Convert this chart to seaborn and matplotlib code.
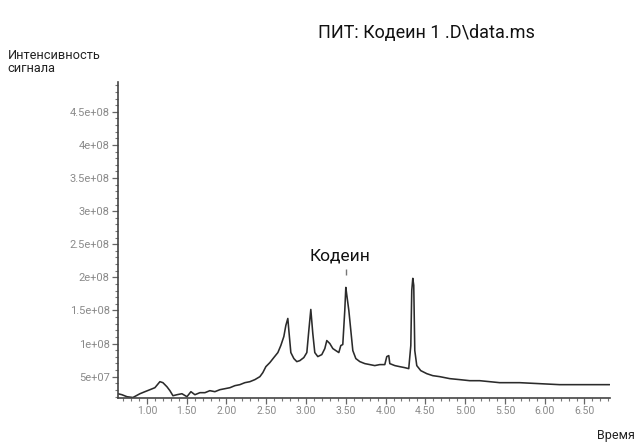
import matplotlib
matplotlib.use("Agg")
import matplotlib.pyplot as plt
from matplotlib.ticker import FixedLocator, MultipleLocator
import seaborn as sns
import pandas as pd

# Retention time (min) and signal intensity (millions of counts)
time_min = [0.636, 0.686, 0.749, 0.824, 0.912, 0.975, 1.038, 1.100, 1.163, 1.201,
            1.251, 1.289, 1.327, 1.377, 1.440, 1.503, 1.553, 1.603, 1.666, 1.729,
            1.791, 1.854, 1.917, 1.980, 2.043, 2.106, 2.168, 2.231, 2.294, 2.357,
            2.420, 2.457, 2.495, 2.545, 2.595, 2.646, 2.683, 2.721, 2.746, 2.771,
            2.784, 2.809, 2.847, 2.884, 2.922, 2.972, 3.010, 3.035, 3.060, 3.085,
            3.110, 3.148, 3.198, 3.236, 3.261, 3.299, 3.337, 3.374, 3.412, 3.437,
            3.462, 3.487, 3.500, 3.513, 3.538, 3.563, 3.588, 3.626, 3.676, 3.739,
            3.802, 3.864, 3.927, 3.990, 4.015, 4.040, 4.053, 4.116, 4.178, 4.241,
            4.291, 4.317, 4.329, 4.342, 4.354, 4.367, 4.392, 4.442, 4.518, 4.593,
            4.681, 4.807, 4.932, 5.058, 5.183, 5.309, 5.435, 5.686, 5.937, 6.188,
            6.440, 6.817]
intensity_m = [24.2, 22.7, 19.7, 18.5, 24.2, 27.3, 30.3, 33.3, 42.4, 40.9,
               34.8, 28.8, 21.2, 22.7, 24.2, 19.7, 27.3, 22.7, 25.8, 25.8,
               28.8, 27.3, 30.3, 31.8, 33.3, 36.4, 37.9, 40.9, 42.4, 45.5,
               50.0, 56.1, 65.1, 71.2, 78.8, 86.4, 97.0, 110.6, 127.3, 137.9,
               119.7, 86.4, 77.3, 72.7, 74.2, 78.8, 86.4, 119.7, 151.5, 115.2,
               86.4, 80.3, 83.3, 92.4, 104.5, 100.0, 92.4, 89.4, 86.4, 97.0,
               98.5, 150.0, 184.8, 172.7, 150.0, 119.7, 89.4, 77.3, 72.7, 69.7,
               68.2, 66.7, 68.2, 68.2, 80.3, 81.8, 69.7, 66.7, 65.1, 63.6,
               62.1, 97.0, 180.3, 198.5, 187.9, 89.4, 66.7, 59.1, 54.5, 51.5,
               50.0, 47.0, 45.5, 43.9, 43.9, 42.4, 40.9, 40.9, 39.4, 37.9,
               37.9, 37.9]

x_ticks = [1.0, 1.5, 2.0, 2.5, 3.0, 3.5, 4.0, 4.5, 5.0, 5.5, 6.0, 6.5]
x_labels = ["1.00", "1.50", "2.00", "2.50", "3.00", "3.50", "4.00", "4.50",
            "5.00", "5.50", "6.00", "6.50"]
y_ticks = [5e7, 1e8, 1.5e8, 2e8, 2.5e8, 3e8, 3.5e8, 4e8, 4.5e8]
y_labels = ["5e+07", "1e+08", "1.5e+08", "2e+08", "2.5e+08", "3e+08",
            "3.5e+08", "4e+08", "4.5e+08"]

title_text = "ПИТ: Кодеин 1 .D\\data.ms"
ylabel_text = "Интенсивность\nсигнала"
xlabel_text = "Время"
peak_label = "Кодеин"
peak_time = 3.50

sns.set_style("white")
FONT = ["Liberation Sans Narrow", "Roboto", "DejaVu Sans"]
plt.rcParams["font.family"] = FONT

df = pd.DataFrame({"t": time_min, "I": [v * 1e6 for v in intensity_m]})

fig = plt.figure(figsize=(6.36, 4.46), dpi=100)
ax = fig.add_axes([0.1855, 0.108, 0.7735, 0.708])
sns.lineplot(data=df, x="t", y="I", ax=ax, color="#2b2b2b", linewidth=1.15)

ax.set_xlim(0.636, 6.82)
ax.set_ylim(1.8e7, 4.95e8)
ax.set_xlabel("")
ax.set_ylabel("")

ax.xaxis.set_major_locator(FixedLocator(x_ticks))
ax.set_xticklabels(x_labels)
ax.xaxis.set_minor_locator(MultipleLocator(0.1))
ax.yaxis.set_major_locator(FixedLocator(y_ticks))
ax.set_yticklabels(y_labels)
ax.yaxis.set_minor_locator(MultipleLocator(1e7))

for s in ["top", "right"]:
    ax.spines[s].set_visible(False)
for s in ["left", "bottom"]:
    ax.spines[s].set_color("#444444")
    ax.spines[s].set_linewidth(1.2)

ax.tick_params(axis="both", which="both", bottom=True, left=True, top=False, right=False)
ax.tick_params(axis="x", which="major", labelsize=7.5)
ax.tick_params(axis="y", which="major", labelsize=8)
ax.tick_params(axis="both", which="major", length=4, width=0.9, color="#666666",
               labelcolor="#8a8a8a", direction="out", pad=2)
ax.tick_params(axis="both", which="minor", length=2.5, width=0.8, color="#777777",
               direction="out")

# Peak label and marker
ax.text(3.425, 2.33e8, peak_label, fontsize=12.5, ha="center", va="center",
        color="#111111", family=FONT)
ax.vlines(peak_time, 2.04e8, 2.12e8, color="#777777", linewidth=1.0)

fig.text(0.5, 0.926, title_text, fontsize=13, ha="left", va="center",
         color="#111111", family=FONT)
fig.text(0.012, 0.86, ylabel_text, fontsize=9.2, ha="left", va="center",
         color="#222222", family=FONT, linespacing=1.0)
fig.text(0.998, 0.01, xlabel_text, fontsize=9, ha="right", va="bottom",
         color="#222222", family=FONT)

fig.savefig("out.png", dpi=100)
